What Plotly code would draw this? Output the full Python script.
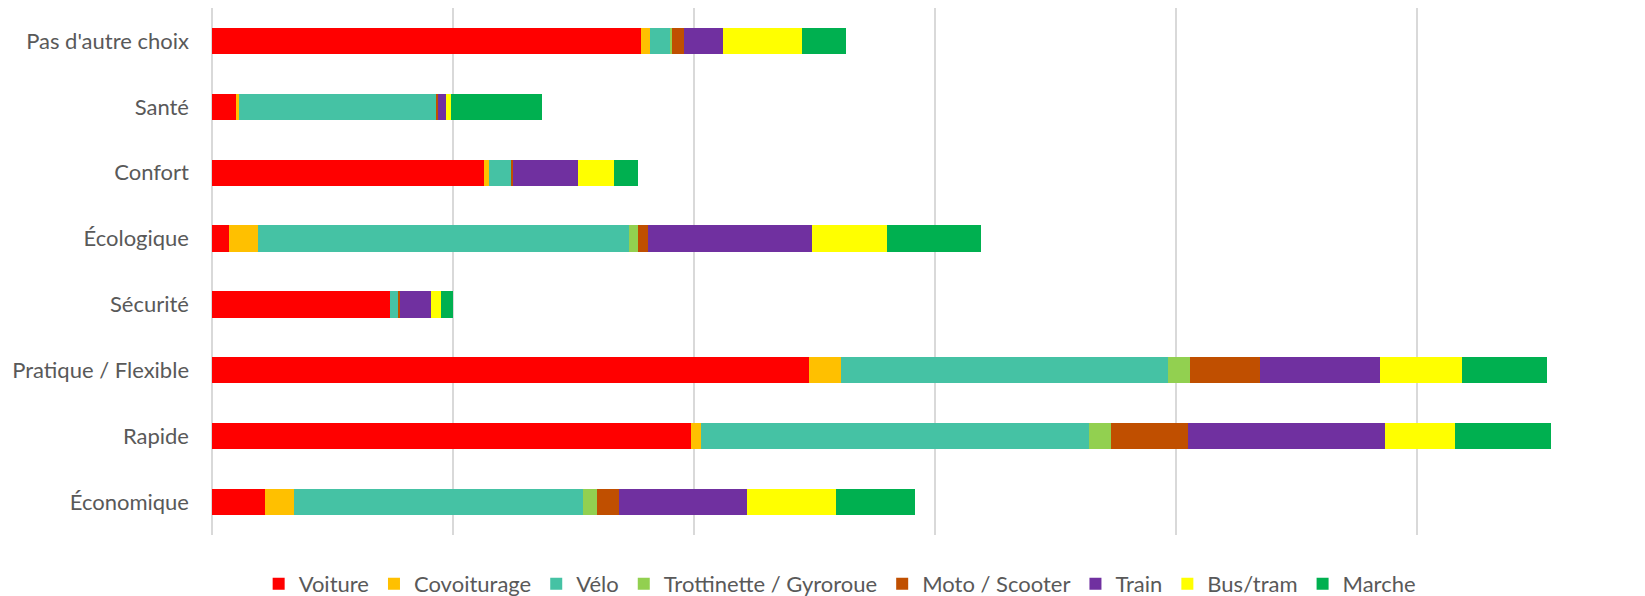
import plotly.graph_objects as go

categories = ["Pas d'autre choix", "Santé", "Confort", "Écologique", "Sécurité",
              "Pratique / Flexible", "Rapide", "Économique"]

voiture      = [178, 10, 113,   7, 74, 248, 199,  22]
covoiturage  = [  4,  1,   2,  12,  0,  13,   4,  12]
velo         = [  8, 82,   9, 154,  3, 136, 161, 120]
trottinette  = [  1,  0,   0,   4,  0,   9,   9,   6]
moto         = [  5,  1,   1,   4,  1,  29,  32,   9]
train        = [ 16,  3,  27,  68, 13,  50,  82,  53]
bus_tram     = [ 33,  2,  15,  31,  4,  34,  29,  37]
marche       = [ 18, 38,  10,  39,  5,  35,  40,  33]

series_names = ["Voiture", "Covoiturage", "Vélo", "Trottinette / Gyroroue",
                "Moto / Scooter", "Train", "Bus/tram", "Marche"]
series_values = [voiture, covoiturage, velo, trottinette, moto, train, bus_tram, marche]
colors = ["#FF0000", "#FFC000", "#45C2A4", "#92D050", "#C04F00", "#7030A0", "#FFFF00", "#00B050"]

fig = go.Figure()
for name, vals, col in zip(series_names, series_values, colors):
    fig.add_trace(go.Bar(
        y=categories, x=vals, name=name, orientation="h",
        marker=dict(color=col, line=dict(width=0)),
    ))

# page body has an 8px margin; keep figure inside the viewport
W, H = 1637, 588
left, top, bottom = 203.5, 0, 61
px_per_unit = 2.41
xmax = (W - left) / px_per_unit

fig.update_layout(
    width=W, height=H,
    barmode="stack",
    bargap=0.6,
    plot_bgcolor="white", paper_bgcolor="white",
    margin=dict(l=left, r=0, t=top, b=bottom, autoexpand=False),
    font=dict(family="Lato, 'Open Sans', sans-serif", color="#595959", size=22),
    xaxis=dict(range=[0, xmax], dtick=100, showticklabels=False,
               showgrid=True, gridcolor="#D9D9D9", gridwidth=1.5,
               zeroline=True, zerolinecolor="#D9D9D9", zerolinewidth=1.5,
               showline=False, fixedrange=True),
    yaxis=dict(autorange="reversed", showgrid=False, showline=False,
               ticks="", ticklabelstandoff=22,
               tickfont=dict(size=22, color="#595959")),
    legend=dict(orientation="h", x=0.438, xanchor="center",
                y=-0.093, yanchor="middle",
                font=dict(size=22, color="#595959"),
                itemwidth=30, traceorder="normal"),
)

fig.write_html("out.html")
